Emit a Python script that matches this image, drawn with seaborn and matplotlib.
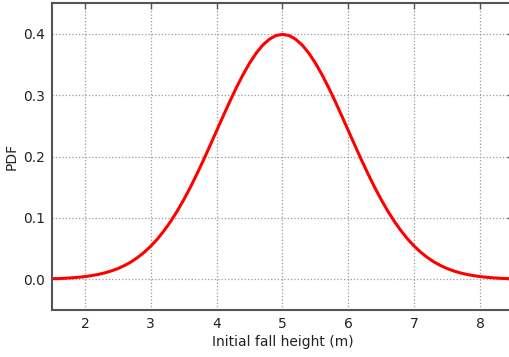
import numpy as np
import pandas as pd
import matplotlib
matplotlib.use("Agg")
import matplotlib.pyplot as plt
import seaborn as sns

# values (step 0.1 m)
height_m = [1.5, 1.6, 1.7, 1.8, 1.9, 2.0, 2.1, 2.2, 2.3, 2.4,
            2.5, 2.6, 2.7, 2.8, 2.9, 3.0, 3.1, 3.2, 3.3, 3.4,
            3.5, 3.6, 3.7, 3.8, 3.9, 4.0, 4.1, 4.2, 4.3, 4.4,
            4.5, 4.6, 4.7, 4.8, 4.9, 5.0, 5.1, 5.2, 5.3, 5.4,
            5.5, 5.6, 5.7, 5.8, 5.9, 6.0, 6.1, 6.2, 6.3, 6.4,
            6.5, 6.6, 6.7, 6.8, 6.9, 7.0, 7.1, 7.2, 7.3, 7.4,
            7.5, 7.6, 7.7, 7.8, 7.9, 8.0, 8.1, 8.2, 8.3, 8.4, 8.5]
pdf_vals = [0.0009, 0.0012, 0.0017, 0.0024, 0.0033, 0.0044, 0.0060, 0.0079, 0.0104, 0.0136,
            0.0175, 0.0224, 0.0283, 0.0355, 0.0440, 0.0540, 0.0656, 0.0790, 0.0940, 0.1109,
            0.1295, 0.1497, 0.1714, 0.1942, 0.2179, 0.2420, 0.2661, 0.2897, 0.3123, 0.3332,
            0.3521, 0.3683, 0.3814, 0.3910, 0.3970, 0.3989, 0.3970, 0.3910, 0.3814, 0.3683,
            0.3521, 0.3332, 0.3123, 0.2897, 0.2661, 0.2420, 0.2179, 0.1942, 0.1714, 0.1497,
            0.1295, 0.1109, 0.0940, 0.0790, 0.0656, 0.0540, 0.0440, 0.0355, 0.0283, 0.0224,
            0.0175, 0.0136, 0.0104, 0.0079, 0.0060, 0.0044, 0.0033, 0.0024, 0.0017, 0.0012, 0.0009]
x_ticks = [2, 3, 4, 5, 6, 7, 8]
y_ticks = [0.0, 0.1, 0.2, 0.3, 0.4]

df = pd.DataFrame({"height": height_m, "pdf": pdf_vals})

sns.set_style("white")
plt.rcParams["font.family"] = ["DejaVu Sans"]

fig = plt.figure(figsize=(5.1, 3.57), dpi=100)
ax = fig.add_axes([52 / 510, 47 / 357, 461 / 510, 307 / 357])

sns.lineplot(data=df, x="height", y="pdf", color="red", linewidth=2.2, ax=ax)

ax.set_xlim(1.5, 8.5)
ax.set_ylim(-0.05, 0.45)
ax.set_xticks(x_ticks)
ax.set_yticks(y_ticks)
ax.set_xticklabels([str(t) for t in x_ticks])
ax.set_yticklabels([f"{t:.1f}" for t in y_ticks])
ax.grid(True, linestyle=":", color="#9a9a9a", linewidth=0.9)
ax.tick_params(direction="in", length=4, width=1, color="#555555",
               labelsize=10, labelcolor="#222222", top=True, right=True, pad=5)
for s in ax.spines.values():
    s.set_color("#555555")
    s.set_linewidth(1.5)
ax.set_xlabel("Initial fall height (m)", fontsize=10, color="#222222", labelpad=3)
ax.set_ylabel("PDF", fontsize=10, color="#222222", labelpad=3)

fig.savefig("out.png", dpi=100)
